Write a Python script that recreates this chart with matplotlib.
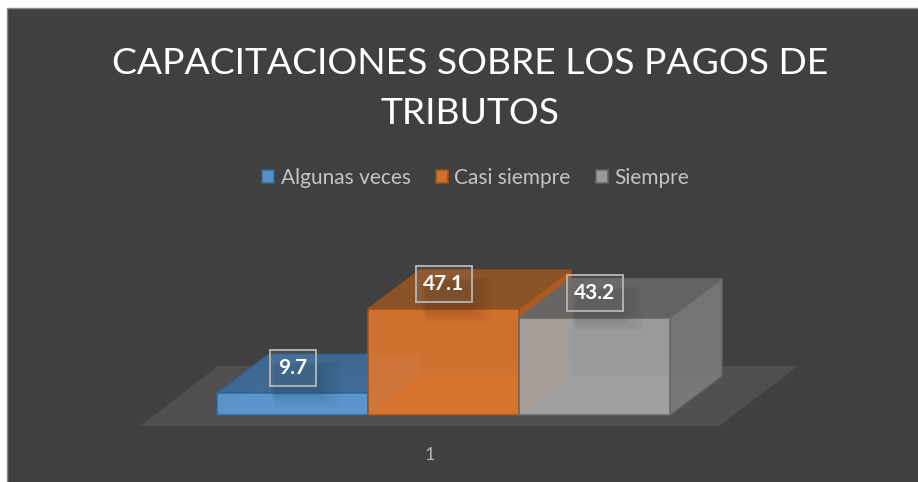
import matplotlib
matplotlib.use('Agg')
from matplotlib import pyplot as plt
from matplotlib.patches import Polygon, Rectangle

categories = ['Algunas veces', 'Casi siempre', 'Siempre']
values = [9.7, 47.1, 43.2]
axis_label = '1'
title = 'CAPACITACIONES SOBRE LOS PAGOS DE\nTRIBUTOS'

front_colors = ['#5b9bd5', '#e0762c', '#a5a5a5']
side_colors = ['#4a7fb0', '#b85f22', '#7a7a7a']
top_colors = ['#3f6b96', '#8f5426', '#666666']
edge_colors = ['#2f6496', '#a04f14', '#666666']

plt.rcParams['font.family'] = ['Lato', 'DejaVu Sans']

# one bar is 151 px wide, one unit of value is 2.25 px high
px_x = 151.0
px_y = 2.25
x0 = 217.0
y0 = 415.0
depth_x = 52 / px_x
depth_y = 39 / px_y

fig = plt.figure(figsize=(9.18, 4.82), dpi=100, facecolor='white')
ax = fig.add_axes([0, 0, 1, 1])
ax.set_xlim(-x0 / px_x, (918 - x0) / px_x)
ax.set_ylim(-(482 - y0) / px_y, y0 / px_y)
ax.axis('off')


def fx(p):
    return (p - x0) / px_x


def fy(p):
    return (y0 - p) / px_y


# background
ax.add_patch(Rectangle((fx(7.5), fy(490)), 1000 / px_x, (490 - 7.5) / px_y,
                       facecolor='#404040', edgecolor='#8c8c8c', lw=1, zorder=0))

# floor
ax.add_patch(Polygon([(fx(140), fy(426)), (fx(719), fy(426)), (fx(798), fy(366)), (fx(218), fy(366))],
                     facecolor='#504e4e', edgecolor='none', zorder=1))

z = 2
bars = []
for i in range(len(values)):
    v = values[i]
    # back faces first so they show through the front of the next bar
    ax.add_patch(Polygon([(i, 0), (i + 1, 0), (i + 1 + depth_x, depth_y), (i + depth_x, depth_y)],
                         facecolor=front_colors[i], edgecolor='none', alpha=0.35, zorder=z))
    ax.add_patch(Polygon([(i, v), (i + 1, v), (i + 1 + depth_x, v + depth_y), (i + depth_x, v + depth_y)],
                         facecolor=top_colors[i], edgecolor=edge_colors[i], lw=1, alpha=0.95, zorder=z + 1))
    ax.add_patch(Polygon([(i + 1, 0), (i + 1 + depth_x, depth_y), (i + 1 + depth_x, v + depth_y), (i + 1, v)],
                         facecolor=side_colors[i], edgecolor=edge_colors[i], lw=1, alpha=0.9, zorder=z + 1))
    b = ax.bar(i, v, width=1, align='edge', color=front_colors[i], edgecolor=edge_colors[i],
               lw=1.2, alpha=0.9, zorder=z + 2, label=categories[i])
    bars.append(b)
    z += 3

# soft shadows under the data labels
for i in range(len(values)):
    v = values[i]
    for k in range(6):
        grow = k * 3
        ax.add_patch(Rectangle((i + 0.5 - (22 - grow * 0.3) / px_x, v - (3 + grow * 0.7) / px_y),
                               (50 + grow) / px_x, (30 + grow) / px_y,
                               facecolor='black', edgecolor='none', alpha=0.018, zorder=20))

# data labels
for i in range(len(values)):
    v = values[i]
    ax.text(i + 0.5, v + 25 / px_y, str(v), color='white', fontsize=15, fontweight='bold',
            ha='center', va='center', zorder=22)
    w = 46 if v < 10 else 56
    ax.add_patch(Rectangle((i + 0.5 - w / 2 / px_x, v + 7 / px_y), w / px_x, 36 / px_y,
                           facecolor=(1, 1, 1, 0.05), edgecolor='#b0b0b0', lw=1.4, zorder=21))

ax.text(fx(430), fy(455), axis_label, color='#b4b4b4', fontsize=13, ha='center', va='center')

fig.text(470 / 918, 1 - 88.5 / 482, title, color='white', fontsize=26.8,
         ha='center', va='center', linespacing=1.66)

handles = [b[0] for b in bars]
leg = ax.legend(handles, categories, ncol=3, loc='center', bbox_to_anchor=(475.5 / 918, 1 - 178 / 482),
                frameon=False, fontsize=15, labelcolor='#c4c4c4', handlelength=0.6, handleheight=0.6,
                handletextpad=0.3, columnspacing=1.2)
leg.set_zorder(30)

fig.savefig('out.png', dpi=100)
